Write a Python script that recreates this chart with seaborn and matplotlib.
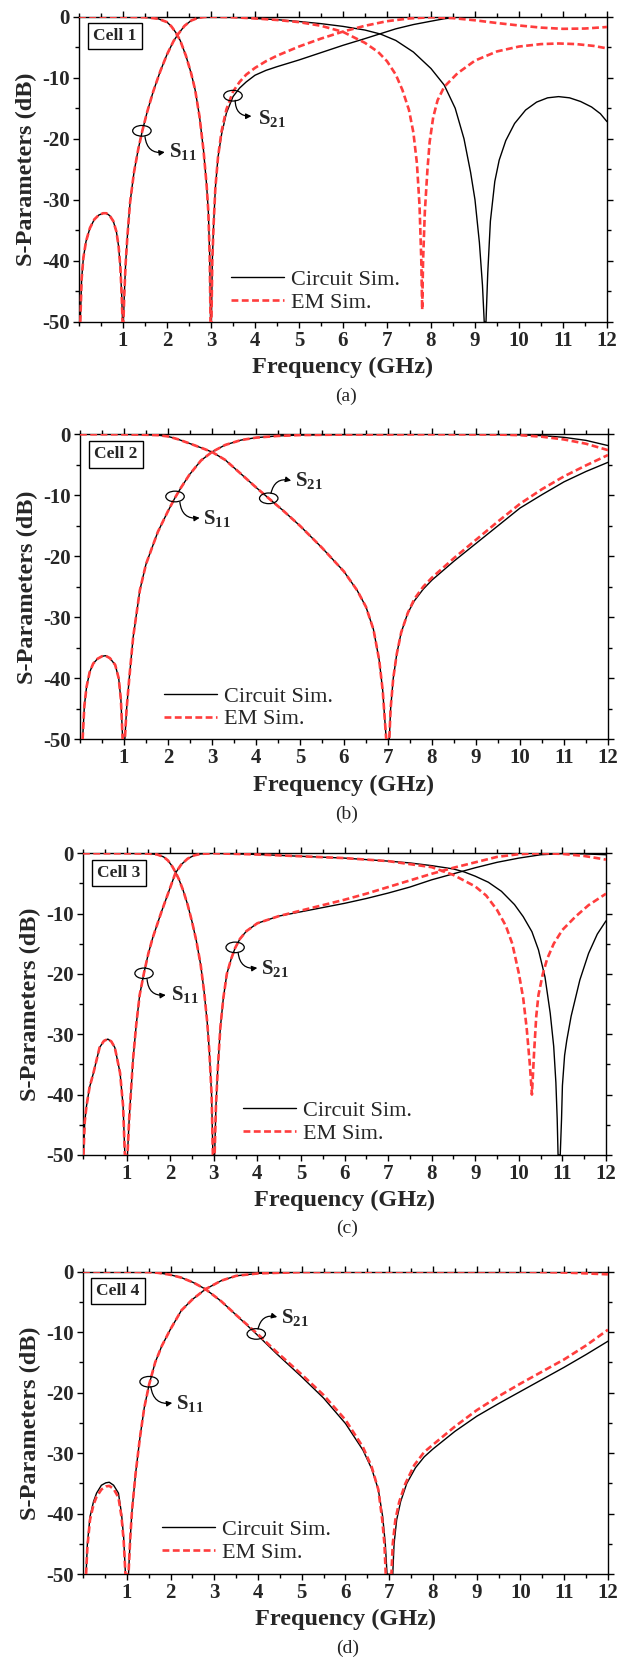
import matplotlib
matplotlib.use("Agg")
import matplotlib.pyplot as plt
import seaborn as sns
import pandas as pd
from matplotlib.patches import Ellipse
from matplotlib.lines import Line2D
from matplotlib.ticker import MultipleLocator

# ---------------- data (frequency GHz, dB) ----------------
# Panel (a) Cell 1
A_S11_LOW = [(0.03,-50),(0.06,-43),(0.1,-39.5),(0.16,-36.8),(0.25,-34.6),(0.35,-33.2),(0.45,-32.5),(0.55,-32.2),
             (0.62,-32.2),(0.7,-32.6),(0.78,-33.5),(0.85,-35.2),(0.9,-37.6),(0.94,-41),(0.97,-45.5),(0.99,-50),
             (1.01,-50),(1.03,-45.5),(1.06,-40.5),(1.1,-36),(1.16,-30.5),(1.25,-25.5),(1.35,-21.6),(1.44,-18.7),
             (1.55,-15.6),(1.69,-12.2),(1.85,-8.9),(2.0,-6.2),(2.15,-4.0),(2.25,-2.9),(2.4,-1.5),(2.55,-0.65),
             (2.7,-0.22),(2.85,-0.06),(3.0,-0.02),(3.5,-0.1),(4.0,-0.3)]
A_S11_CIRCUIT_HIGH = [(4.5,-0.5),(5.0,-0.8),(5.5,-1.15),(6.0,-1.6),(6.5,-2.2),(6.85,-2.85),(7.2,-3.9),(7.6,-5.8),
                      (8.0,-8.5),(8.3,-11.2),(8.55,-15),(8.75,-20),(8.9,-25.5),(9.0,-30),(9.1,-37),(9.17,-44),
                      (9.21,-50),(9.25,-50),(9.29,-42),(9.35,-33.5),(9.45,-27),(9.55,-23.5),(9.7,-20.3),(9.9,-17.5),
                      (10.15,-15.3),(10.4,-14.0),(10.65,-13.3),(10.9,-13.1),(11.15,-13.3),(11.4,-13.9),
                      (11.65,-14.8),(11.85,-15.9),(12.0,-17.2)]
A_S11_EM_HIGH = [(4.5,-0.55),(5.0,-0.9),(5.5,-1.5),(6.0,-2.5),(6.5,-4.3),(6.8,-5.8),(7.0,-7.3),(7.2,-9.5),
                 (7.35,-12),(7.5,-15.3),(7.6,-19),(7.68,-24),(7.74,-31),(7.78,-40),(7.8,-48),(7.82,-40),
                 (7.86,-32),(7.92,-25),(7.97,-20.5),(8.05,-16.5),(8.15,-13.7),(8.3,-11.5),(8.6,-9.3),(9.0,-7.2),
                 (9.5,-5.7),(10.0,-4.9),(10.5,-4.5),(10.9,-4.4),(11.3,-4.5),(11.7,-4.8),(12.0,-5.2)]
A_S21_LOW = [(0.0,0),(0.5,0),(1.0,-0.02),(1.5,-0.1),(1.8,-0.35),(2.0,-0.9),(2.1,-1.6),(2.2,-2.6),(2.3,-3.9),
             (2.43,-6.4),(2.55,-9.3),(2.64,-12),(2.74,-16.4),(2.83,-21.9),(2.9,-27.5),(2.94,-32),(2.97,-39),
             (2.99,-50),(3.01,-50),(3.03,-40),(3.06,-34),(3.1,-28),(3.16,-23)]
A_S21_CIRCUIT_HIGH = [(3.24,-19.3),(3.35,-15.8),(3.5,-13.1),(3.65,-11.7),(3.8,-10.7),(4.0,-9.6),(4.25,-8.8),
                      (4.5,-8.2),(5.0,-7.1),(5.5,-5.9),(6.0,-4.7),(6.5,-3.6),(6.85,-2.8),(7.2,-2.0),(7.6,-1.3),
                      (8.0,-0.75),(8.3,-0.35),(8.6,-0.1),(9.0,-0.02),(10.0,0),(12.0,-0.05)]
A_S21_EM_HIGH = [(3.24,-18.8),(3.35,-15.2),(3.5,-12.3),(3.65,-10.7),(3.8,-9.5),(4.0,-8.4),(4.25,-7.3),(4.5,-6.4),
                 (5.0,-4.9),(5.5,-3.6),(6.0,-2.45),(6.5,-1.5),(7.0,-0.75),(7.5,-0.3),(8.0,-0.1),(8.5,-0.25),
                 (9.0,-0.6),(9.5,-1.05),(10.0,-1.45),(10.5,-1.8),(11.0,-2.0),(11.5,-1.95),(12.0,-1.7)]

# Panel (b) Cell 2
B_S11_LOW = [(0.06,-50),(0.1,-44.5),(0.15,-41.4),(0.22,-39),(0.3,-37.6),(0.4,-36.8),(0.5,-36.4),(0.58,-36.3),
             (0.68,-36.7),(0.8,-37.8),(0.88,-40),(0.93,-43.5),(0.97,-50),(1.02,-50),(1.06,-45),(1.12,-40),
             (1.21,-33.2),(1.36,-25.6),(1.5,-21.3),(1.77,-16),(2.0,-12.6),(2.16,-10.4),(2.3,-8.7),(2.49,-6.6),
             (2.75,-4.3),(3.0,-2.9),(3.3,-1.75),(3.66,-0.95),(4.0,-0.55),(4.5,-0.27),(5.0,-0.13),(6.0,-0.05),
             (8.0,0),(9.0,-0.02),(9.5,-0.04)]
B_S11_CIRCUIT_HIGH = [(10.0,-0.1),(10.5,-0.22),(11.0,-0.5),(11.5,-1.0),(12.0,-1.85)]
B_S11_EM_HIGH = [(10.0,-0.15),(10.5,-0.4),(11.0,-0.85),(11.5,-1.55),(12.0,-2.6)]
B_S21_LOW = [(0.0,0),(1.0,-0.01),(1.5,-0.08),(1.77,-0.15),(2.0,-0.35),(2.22,-0.8),(2.49,-1.5),(2.75,-2.2),
             (3.0,-2.9),(3.3,-4.2),(3.66,-6.5),(4.0,-8.7),(4.29,-10.5),(4.6,-12.4),(5.0,-15),(5.5,-18.6),
             (6.0,-22.5),(6.3,-25.6),(6.5,-28.3),(6.67,-32),(6.8,-37),(6.88,-42),(6.93,-47),(6.96,-50),
             (7.03,-50),(7.06,-45),(7.12,-40),(7.2,-36),(7.3,-32.5),(7.45,-29.3)]
B_S21_CIRCUIT_HIGH = [(7.6,-27.3),(7.8,-25.4),(8.0,-23.9),(8.5,-20.8),(9.0,-17.9),(9.5,-15),(10.0,-12.1),
                      (10.5,-9.9),(11.0,-7.8),(11.5,-6.1),(12.0,-4.6)]
B_S21_EM_HIGH = [(7.6,-27.0),(7.8,-25.0),(8.0,-23.5),(8.5,-20.3),(9.0,-17.3),(9.5,-14.3),(10.0,-11.4),
                 (10.5,-9.0),(11.0,-6.9),(11.5,-5.1),(12.0,-3.4)]

# Panel (c) Cell 3
C_S11_LOW = [(0.01,-50),(0.04,-44.5),(0.08,-41.9),(0.15,-38.8),(0.24,-36.4),(0.38,-32.2),(0.48,-31.1),
             (0.57,-30.8),(0.65,-31.2),(0.73,-32.2),(0.85,-36.4),(0.92,-41.9),(0.96,-50),(1.02,-50),(1.06,-44),
             (1.1,-39.5),(1.15,-34),(1.22,-28.5),(1.3,-23.5),(1.4,-19.8),(1.5,-16.6),(1.6,-14),(1.8,-9.7),
             (1.95,-6.7),(2.05,-4.7),(2.12,-3.3),(2.25,-1.9),(2.4,-0.9),(2.55,-0.35),(2.7,-0.1),(3.0,0),
             (4.0,-0.2),(5.0,-0.5),(6.0,-0.8),(7.0,-1.3)]
C_S11_CIRCUIT_HIGH = [(7.5,-1.6),(8.0,-2.05),(8.5,-2.6),(8.75,-3.1),(9.0,-3.8),(9.3,-4.8),(9.6,-6.3),(9.9,-8.5),
                      (10.1,-10.5),(10.3,-13),(10.45,-16),(10.6,-20.5),(10.72,-26.5),(10.8,-32),(10.85,-38),
                      (10.88,-44),(10.9,-50),(10.95,-50),(10.98,-44),(11.0,-38.5),(11.05,-33.5),(11.1,-31),
                      (11.2,-27),(11.4,-21),(11.6,-16.6),(11.8,-13.4),(12.0,-11.2)]
C_S11_EM_HIGH = [(7.5,-1.8),(8.0,-2.3),(8.5,-3.6),(9.0,-5.5),(9.25,-7),(9.5,-9.4),(9.7,-12),(9.85,-15),
                 (10.0,-19.9),(10.1,-24),(10.18,-29),(10.25,-34.8),(10.3,-40),(10.35,-33),(10.4,-27),
                 (10.45,-23.5),(10.55,-20),(10.65,-17.5),(10.8,-15),(11.0,-12.7),(11.3,-10.5),(11.6,-8.6),
                 (12.0,-6.7)]
C_S21_LOW = [(0.0,0),(1.0,-0.01),(1.5,-0.05),(1.7,-0.2),(1.85,-0.6),(1.95,-1.2),(2.05,-2.2),(2.12,-3.1),
             (2.2,-4.3),(2.3,-6.2),(2.4,-8.5),(2.5,-11.3),(2.6,-14.5),(2.7,-18.5),(2.78,-23),(2.85,-28),
             (2.9,-33),(2.95,-40),(2.98,-50),(3.02,-50),(3.05,-42),(3.09,-36),(3.15,-29),(3.22,-24),(3.3,-20),
             (3.4,-17.5),(3.49,-15.7),(3.6,-14.2),(3.75,-12.9),(4.0,-11.6),(4.5,-10.4)]
C_S21_CIRCUIT_HIGH = [(5.0,-9.7),(5.5,-9.0),(6.0,-8.3),(6.5,-7.5),(7.0,-6.6),(7.5,-5.6),(8.0,-4.4),(8.5,-3.4),
                      (8.7,-3.0),(9.0,-2.4),(9.5,-1.5),(10.0,-0.8),(10.5,-0.25),(11.0,-0.05),(11.5,-0.1),
                      (12.0,-0.25)]
C_S21_EM_HIGH = [(5.0,-9.5),(5.5,-8.6),(6.0,-7.7),(6.5,-6.7),(7.0,-5.6),(7.5,-4.5),(8.0,-3.4),(8.5,-2.4),
                 (9.0,-1.5),(9.5,-0.6),(10.0,-0.15),(10.5,0),(11.0,-0.1),(11.5,-0.45),(12.0,-1.05)]

# Panel (d) Cell 4
D_S11_CIRCUIT_LOW = [(0.07,-50),(0.1,-45),(0.16,-40.5),(0.24,-38),(0.31,-36.6),(0.42,-35.3),(0.52,-34.9),
                     (0.6,-34.8),(0.7,-35.3),(0.81,-36.6),(0.88,-40),(0.93,-44),(0.97,-50)]
D_S11_EM_LOW = [(0.07,-50),(0.1,-45.5),(0.16,-41),(0.24,-38.5),(0.31,-37.2),(0.42,-36),(0.52,-35.5),
                (0.6,-35.4),(0.7,-35.9),(0.81,-37.3),(0.88,-40.5),(0.93,-44.5),(0.97,-50)]
D_S11_MID = [(1.04,-50),(1.08,-44),(1.12,-39.5),(1.2,-33.5),(1.3,-27.5),(1.4,-22.5),(1.51,-18.7),(1.65,-15),
             (1.8,-12.3),(2.0,-9.5),(2.25,-6.4),(2.5,-4.6),(2.8,-2.9),(3.16,-1.5),(3.5,-0.7),(4.0,-0.3),
             (5.0,-0.08),(6.0,-0.02),(8.0,0),(10.0,0)]
D_S11_CIRCUIT_HIGH = [(11.0,-0.02),(12.0,-0.05)]
D_S11_EM_HIGH = [(11.0,-0.15),(12.0,-0.45)]
D_S21_LOW = [(0.0,0),(1.0,-0.01),(1.5,-0.08),(1.71,-0.2),(1.98,-0.5),(2.25,-1.0),(2.52,-1.8),(2.8,-2.9),
             (3.16,-4.9),(3.52,-7.3)]
D_S21_CIRCUIT_HIGH = [(3.96,-10.3),(4.43,-13.6),(5.0,-17.4),(5.5,-20.9),(6.0,-25.1),(6.4,-29.5),(6.6,-32.6),
                      (6.75,-36),(6.85,-40.5),(6.91,-45),(6.95,-50),(7.08,-50),(7.11,-45),(7.17,-41),(7.26,-38),
                      (7.4,-35),(7.6,-32.4),(7.8,-30.6),(8.0,-29.3),(8.5,-26.4),(9.0,-23.9),(9.5,-21.8),
                      (10.0,-19.8),(10.5,-17.8),(11.0,-15.8),(11.5,-13.7),(12.0,-11.5)]
D_S21_EM_HIGH = [(3.96,-10.1),(4.43,-13.3),(5.0,-17.0),(5.5,-20.4),(6.0,-24.5),(6.4,-29),(6.6,-32.3),
                 (6.75,-36),(6.84,-41),(6.89,-45),(6.92,-50),(7.05,-50),(7.08,-45),(7.14,-41),(7.23,-38),
                 (7.37,-35),(7.57,-32),(7.8,-29.8),(8.0,-28.6),(8.5,-25.6),(9.0,-22.9),(9.5,-20.6),
                 (10.0,-18.5),(10.5,-16.5),(11.0,-14.5),(11.5,-12.2),(12.0,-9.6)]

PANEL_TAGS = ["(a)", "(b)", "(c)", "(d)"]
CELL_NAMES = ["Cell 1", "Cell 2", "Cell 3", "Cell 4"]
LEGEND_LABELS = ["Circuit Sim.", "EM Sim."]
X_TICKS = list(range(1, 13))
Y_TICKS = [-50, -40, -30, -20, -10, 0]

curves = [
    {"Circuit Sim.": {"S11": A_S11_LOW + A_S11_CIRCUIT_HIGH, "S21": A_S21_LOW + A_S21_CIRCUIT_HIGH},
     "EM Sim.": {"S11": A_S11_LOW + A_S11_EM_HIGH, "S21": A_S21_LOW + A_S21_EM_HIGH}},
    {"Circuit Sim.": {"S11": B_S11_LOW + B_S11_CIRCUIT_HIGH, "S21": B_S21_LOW + B_S21_CIRCUIT_HIGH},
     "EM Sim.": {"S11": B_S11_LOW + B_S11_EM_HIGH, "S21": B_S21_LOW + B_S21_EM_HIGH}},
    {"Circuit Sim.": {"S11": C_S11_LOW + C_S11_CIRCUIT_HIGH, "S21": C_S21_LOW + C_S21_CIRCUIT_HIGH},
     "EM Sim.": {"S11": C_S11_LOW + C_S11_EM_HIGH, "S21": C_S21_LOW + C_S21_EM_HIGH}},
    {"Circuit Sim.": {"S11": D_S11_CIRCUIT_LOW + D_S11_MID + D_S11_CIRCUIT_HIGH, "S21": D_S21_LOW + D_S21_CIRCUIT_HIGH},
     "EM Sim.": {"S11": D_S11_EM_LOW + D_S11_MID + D_S11_EM_HIGH, "S21": D_S21_LOW + D_S21_EM_HIGH}},
]

# ---------------- layout / annotation placement ----------------
AX_RECTS = [[0.1276, 0.8063, 0.853, 0.1837],
            [0.1292, 0.5552, 0.853, 0.1835],
            [0.1341, 0.3051, 0.8449, 0.1815],
            [0.1341, 0.0528, 0.8481, 0.1821]]
LEG_ANCHORS = [(0.288, 0.101), (0.159, 0.1035), (0.306, 0.108), (0.150, 0.1095)]
CELL_POS = [(0.068, 0.937), (0.068, 0.934), (0.069, 0.935), (0.067, 0.935)]
ANNOT = [
    dict(ell=[(1.43, -18.7), (3.5, -12.95)], arr=[((1.5, -19.65), (1.95, -22.2), 0.5), ((3.55, -13.7), (3.92, -16.3), 0.5)],
         txt=[(2.05, -22.95, "11"), (4.07, -17.55, "21")]),
    dict(ell=[(2.16, -10.2), (4.29, -10.5)], arr=[((2.27, -11.1), (2.72, -13.7), 0.5), ((4.34, -9.7), (4.8, -7.6), -0.5)],
         txt=[(2.8, -14.75, "11"), (4.88, -8.55, "21")]),
    dict(ell=[(1.4, -19.9), (3.49, -15.6)], arr=[((1.47, -20.9), (1.9, -23.5), 0.5), ((3.56, -16.5), (4.0, -19.0), 0.5)],
         txt=[(2.03, -24.35, "11"), (4.08, -19.95, "21")]),
    dict(ell=[(1.51, -18.2), (3.96, -10.3)], arr=[((1.55, -19.0), (2.04, -21.7), 0.5), ((4.0, -9.5), (4.44, -7.5), -0.5)],
         txt=[(2.12, -22.65, "11"), (4.52, -8.55, "21")]),
]

RED = "#FF3D3D"
STYLE = {"Circuit Sim.": dict(color="black", lw=1.0, ls="-"),
         "EM Sim.": dict(color=RED, lw=1.9, ls="--")}

sns.set_theme(style="ticks")
plt.rcParams["font.family"] = ["Liberation Serif", "DejaVu Serif"]
plt.rcParams["mathtext.fontset"] = "custom"
plt.rcParams["mathtext.rm"] = "Liberation Serif"
plt.rcParams["mathtext.bf"] = "Liberation Serif:bold"
plt.rcParams["mathtext.it"] = "Liberation Serif:italic"
plt.rcParams["axes.unicode_minus"] = False

fig = plt.figure(figsize=(6.19, 16.62), dpi=100)
fig.patch.set_facecolor("white")

for i in range(4):
    ax = fig.add_axes(AX_RECTS[i])
    ax.set_facecolor("white")
    for src in ["Circuit Sim.", "EM Sim."]:
        for par in ["S11", "S21"]:
            pts = curves[i][src][par]
            df = pd.DataFrame(pts, columns=["freq", "db"])
            st = STYLE[src]
            sns.lineplot(data=df, x="freq", y="db", ax=ax, color=st["color"], lw=st["lw"],
                         linestyle=st["ls"], sort=False, estimator=None, legend=False, zorder=3 if src == "EM Sim." else 2)
            if src == "EM Sim.":
                ax.lines[-1].set_dashes((2.6, 1.3))
    ax.set_xlim(0, 12)
    ax.set_ylim(-50, 0)
    ax.set_xticks(X_TICKS)
    ax.set_yticks(Y_TICKS)
    ax.xaxis.set_minor_locator(MultipleLocator(0.5))
    ax.yaxis.set_minor_locator(MultipleLocator(5))
    ax.tick_params(which="both", direction="out", top=True, right=True, width=1.0, color="black")
    ax.tick_params(which="major", length=4.5, labelsize=15, pad=2)
    ax.tick_params(which="minor", length=3)
    for lab in ax.get_xticklabels() + ax.get_yticklabels():
        lab.set_fontweight("bold")
    for sp in ax.spines.values():
        sp.set_visible(True)
        sp.set_color("black")
        sp.set_linewidth(1.0)
    ax.set_xlabel("Frequency (GHz)", fontsize=17.5, fontweight="bold")
    ax.set_ylabel("S-Parameters (dB)", fontsize=17.5, fontweight="bold")
    ax.xaxis.set_label_coords(0.5, -0.115)
    ax.yaxis.set_label_coords(-0.08, 0.5)
    ax.text(0.505, -0.245, PANEL_TAGS[i], transform=ax.transAxes, ha="center", va="center", fontsize=14)
    ax.text(CELL_POS[i][0], CELL_POS[i][1], CELL_NAMES[i], transform=ax.transAxes, ha="center", va="center",
            fontsize=12.5, fontweight="bold",
            bbox=dict(boxstyle="square,pad=0.3", fc="white", ec="black", lw=1.0), zorder=5)
    handles = [Line2D([], [], color="black", lw=1.0),
               Line2D([], [], color=RED, lw=1.9, dashes=(2.6, 1.3))]
    ax.legend(handles, LEGEND_LABELS, loc="center left", bbox_to_anchor=LEG_ANCHORS[i], frameon=False,
              fontsize=16, handlelength=2.4, handletextpad=0.3, labelspacing=0.1, borderpad=0,
              borderaxespad=0)
    an = ANNOT[i]
    for (ex, ey) in an["ell"]:
        ax.add_patch(Ellipse((ex, ey), 0.42, 1.75, fill=False, ec="black", lw=0.9, zorder=6))
    for (p0, p1, rad) in an["arr"]:
        ax.annotate("", xy=p1, xytext=p0,
                    arrowprops=dict(arrowstyle="-|>", connectionstyle=f"arc3,rad={rad}", color="black",
                                    lw=0.9, mutation_scale=8, shrinkA=0, shrinkB=0), zorder=6)
    for (tx, ty, sub) in an["txt"]:
        ax.text(tx, ty, r"$\mathbf{S}_{\mathbf{" + sub + "}}$", fontsize=15, ha="left", va="baseline", zorder=6)

fig.savefig("out.png", dpi=100, facecolor="white")
